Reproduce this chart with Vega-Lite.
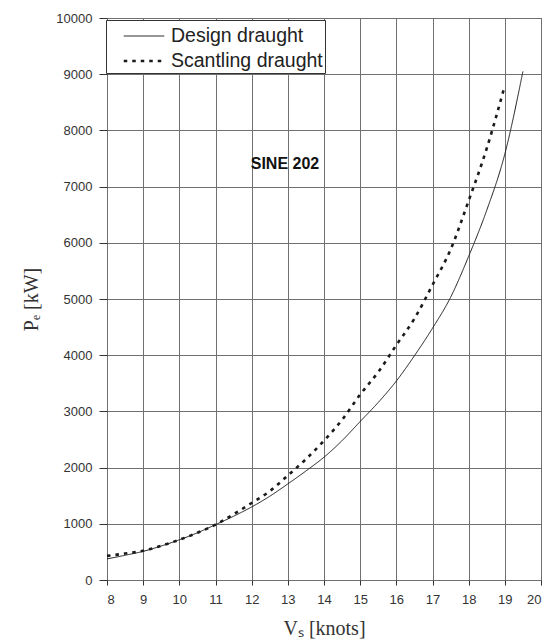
{
  "$schema": "https://vega.github.io/schema/vega-lite/v6.json",
  "width": 434,
  "height": 562,
  "autosize": "none",
  "padding": {"left": 107, "top": 18, "right": 14, "bottom": 64},
  "background": "white",
  "config": {
    "view": {"stroke": "#333", "strokeWidth": 1},
    "font": "Liberation Sans",
    "axis": {
      "grid": true,
      "gridColor": "#707070",
      "gridOpacity": 1,
      "gridWidth": 1,
      "domain": false,
      "tickColor": "#333",
      "labelFont": "Liberation Sans",
      "labelFontSize": 13,
      "labelColor": "#333",
      "labelOverlap": false,
      "titleFont": "Liberation Serif",
      "titleFontSize": 20,
      "titleFontWeight": "normal",
      "titleColor": "#333",
      "format": "d"
    },
    "axisX": {
      "tickSize": 5,
      "labelPadding": 8,
      "titlePadding": 12
    },
    "axisY": {
      "tickSize": 8,
      "labelPadding": 7,
      "titlePadding": 14
    }
  },
  "datasets": {
    "curves": [
      {"v": 8, "p": 375, "s": "Design draught"},
      {"v": 8.5, "p": 440, "s": "Design draught"},
      {"v": 9, "p": 510, "s": "Design draught"},
      {"v": 9.5, "p": 605, "s": "Design draught"},
      {"v": 10, "p": 715, "s": "Design draught"},
      {"v": 10.5, "p": 840, "s": "Design draught"},
      {"v": 11, "p": 985, "s": "Design draught"},
      {"v": 11.5, "p": 1135, "s": "Design draught"},
      {"v": 12, "p": 1300, "s": "Design draught"},
      {"v": 12.5, "p": 1490, "s": "Design draught"},
      {"v": 13, "p": 1710, "s": "Design draught"},
      {"v": 13.5, "p": 1940, "s": "Design draught"},
      {"v": 14, "p": 2185, "s": "Design draught"},
      {"v": 14.5, "p": 2480, "s": "Design draught"},
      {"v": 15, "p": 2820, "s": "Design draught"},
      {"v": 15.5, "p": 3160, "s": "Design draught"},
      {"v": 16, "p": 3540, "s": "Design draught"},
      {"v": 16.5, "p": 3990, "s": "Design draught"},
      {"v": 17, "p": 4480, "s": "Design draught"},
      {"v": 17.5, "p": 5030, "s": "Design draught"},
      {"v": 18, "p": 5760, "s": "Design draught"},
      {"v": 18.5, "p": 6580, "s": "Design draught"},
      {"v": 19, "p": 7580, "s": "Design draught"},
      {"v": 19.5, "p": 9050, "s": "Design draught"},
      {"v": 8, "p": 430, "s": "Scantling draught"},
      {"v": 8.5, "p": 470, "s": "Scantling draught"},
      {"v": 9, "p": 520, "s": "Scantling draught"},
      {"v": 9.5, "p": 610, "s": "Scantling draught"},
      {"v": 10, "p": 715, "s": "Scantling draught"},
      {"v": 10.5, "p": 840, "s": "Scantling draught"},
      {"v": 11, "p": 985, "s": "Scantling draught"},
      {"v": 11.5, "p": 1170, "s": "Scantling draught"},
      {"v": 12, "p": 1370, "s": "Scantling draught"},
      {"v": 12.5, "p": 1580, "s": "Scantling draught"},
      {"v": 13, "p": 1860, "s": "Scantling draught"},
      {"v": 13.5, "p": 2150, "s": "Scantling draught"},
      {"v": 14, "p": 2480, "s": "Scantling draught"},
      {"v": 14.5, "p": 2850, "s": "Scantling draught"},
      {"v": 15, "p": 3300, "s": "Scantling draught"},
      {"v": 15.5, "p": 3700, "s": "Scantling draught"},
      {"v": 16, "p": 4180, "s": "Scantling draught"},
      {"v": 16.5, "p": 4650, "s": "Scantling draught"},
      {"v": 17, "p": 5250, "s": "Scantling draught"},
      {"v": 17.5, "p": 5880, "s": "Scantling draught"},
      {"v": 18, "p": 6750, "s": "Scantling draught"},
      {"v": 18.5, "p": 7680, "s": "Scantling draught"},
      {"v": 19, "p": 8800, "s": "Scantling draught"}
    ],
    "label": [{"x": 12.92, "y": 7400, "t": "SINE 202"}]
  },
  "layer": [
    {
      "data": {"name": "curves"},
      "mark": {"type": "line", "interpolate": "monotone", "color": "#1a1a1a"},
      "encoding": {
        "x": {
          "field": "v",
          "type": "quantitative",
          "scale": {"domain": [8, 20], "nice": false, "zero": false},
          "axis": {"title": "Vₛ [knots]", "values": [8, 9, 10, 11, 12, 13, 14, 15, 16, 17, 18, 19, 20]}
        },
        "y": {
          "field": "p",
          "type": "quantitative",
          "scale": {"domain": [0, 10000], "nice": false},
          "axis": {"title": "Pₑ [kW]", "values": [0, 1000, 2000, 3000, 4000, 5000, 6000, 7000, 8000, 9000, 10000]}
        },
        "strokeDash": {
          "field": "s",
          "type": "nominal",
          "scale": {"domain": ["Design draught", "Scantling draught"], "range": [[1, 0], [3.5, 5]]},
          "legend": {
            "title": null,
            "orient": "none",
            "legendX": -1,
            "legendY": 2,
            "symbolType": "M-1.5,0H1.5",
            "symbolSize": 729,
            "symbolStrokeColor": "#1a1a1a",
            "symbolOffset": 21,
            "labelFont": "Liberation Sans",
            "labelFontSize": 19.5,
            "labelColor": "#222",
            "labelOffset": 12,
            "rowPadding": 0,
            "padding": 2,
            "fillColor": "white",
            "strokeColor": "#333"
          }
        },
        "strokeWidth": {
          "field": "s",
          "type": "nominal",
          "scale": {"domain": ["Design draught", "Scantling draught"], "range": [1, 2.6]}
        }
      }
    },
    {
      "data": {"name": "label"},
      "mark": {"type": "text", "font": "Liberation Sans", "fontWeight": "bold", "fontSize": 16, "color": "#111"},
      "encoding": {
        "x": {"field": "x", "type": "quantitative", "axis": {"title": "Vₛ [knots]", "values": [8, 9, 10, 11, 12, 13, 14, 15, 16, 17, 18, 19, 20]}},
        "y": {"field": "y", "type": "quantitative", "axis": {"title": "Pₑ [kW]", "values": [0, 1000, 2000, 3000, 4000, 5000, 6000, 7000, 8000, 9000, 10000]}},
        "text": {"field": "t"}
      }
    }
  ]
}
